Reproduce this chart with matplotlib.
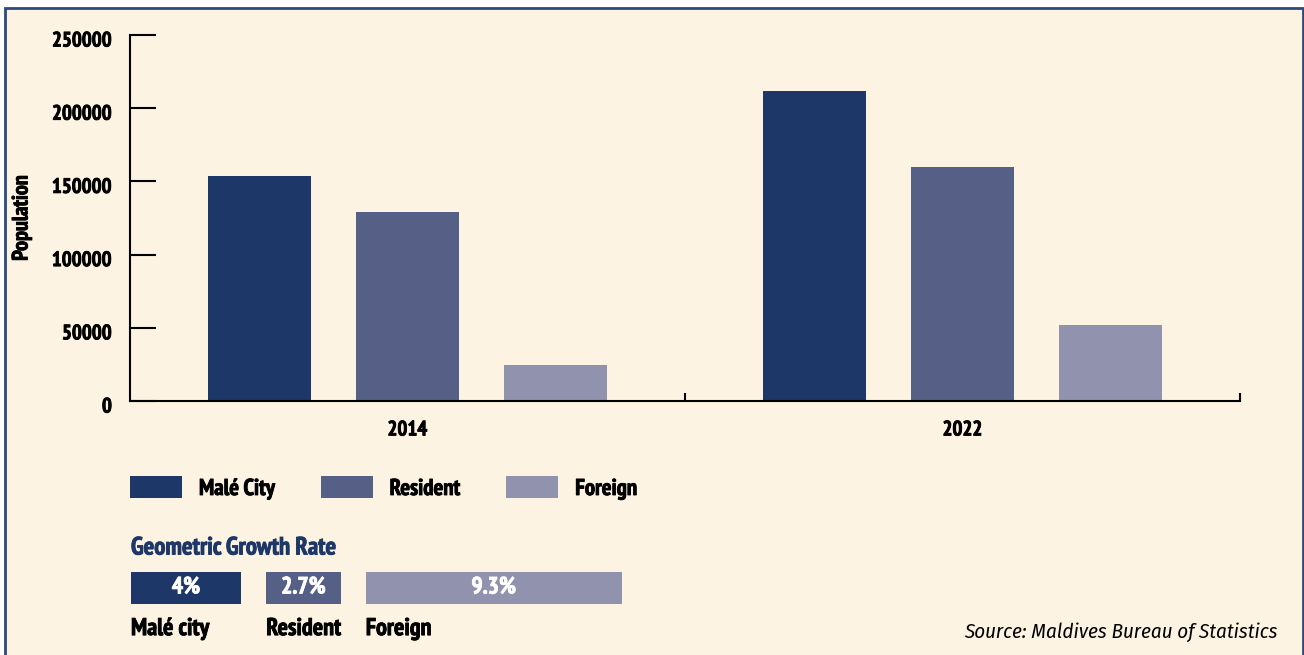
import matplotlib.pyplot as plt
import matplotlib.patheffects as pe
import matplotlib.transforms as mtransforms
import numpy as np
from matplotlib import font_manager
from matplotlib.patches import Patch, Rectangle

YEARS = ["2014", "2022"]
SERIES = ["Malé City", "Resident", "Foreign"]
MALE_CITY = [153904, 211908]
RESIDENT = [129381, 160000]
FOREIGN = [24523, 51908]

GROWTH_LABELS = ["Malé city", "Resident", "Foreign"]
GROWTH_RATES = [4.0, 2.7, 9.3]
GROWTH_TEXT = ["4%", "2.7%", "9.3%"]

COLORS = ["#1d3768", "#565f85", "#9193ae"]
BG = "#fdf3e3"
FRAME = "#2c4a80"


def pick_font(candidates):
    installed = {f.name for f in font_manager.fontManager.ttflist}
    for name in candidates:
        if name in installed:
            return name
    return "DejaVu Sans"


def heavier(color="black"):
    # PT Sans Narrow Bold is a touch lighter than the original face
    return [pe.withStroke(linewidth=0.6, foreground=color)]


MAIN_FONT = pick_font(["PT Sans Narrow", "Fira Sans Condensed", "Asap Condensed",
                       "Liberation Sans Narrow"])
ITALIC_FONT = pick_font(["Fira Sans Condensed", "Asap Condensed", "Archivo Narrow"])
plt.rcParams["font.family"] = [MAIN_FONT, "DejaVu Sans"]

W, H = 1304, 655
fig = plt.figure(figsize=(W / 100, H / 100), dpi=100, facecolor="white")

# cream panel with thin blue frame
fig.patches.append(
    Rectangle((5 / W, -0.02), 1298 / W, 1 - 8 / H + 0.02, transform=fig.transFigure,
              facecolor=BG, edgecolor=FRAME, linewidth=2, zorder=-10)
)

ax = fig.add_axes([130 / W, 1 - 401 / H, 1110 / W, 366 / H])
ax.set_facecolor("none")

x = np.arange(len(YEARS))
offset = 0.2667
width = 0.187
for i, values in enumerate([MALE_CITY, RESIDENT, FOREIGN]):
    ax.bar(x + (i - 1) * offset, values, width=width, color=COLORS[i], zorder=2)

ax.set_xlim(-0.5, 1.5)
ax.set_ylim(0, 250000)
ax.set_yticks(np.arange(0, 250001, 50000))
ax.set_xticks(x, YEARS)
ax.set_xticks([0.5, 1.5], minor=True)

for side in ["top", "right"]:
    ax.spines[side].set_visible(False)
for side in ["left", "bottom"]:
    ax.spines[side].set_linewidth(1.5)
    ax.spines[side].set_color("black")

ax.tick_params(axis="y", direction="in", length=19, width=1.5, pad=13, labelsize=15)
ax.tick_params(axis="x", which="major", length=0, pad=14, labelsize=15)
ax.tick_params(axis="x", which="minor", direction="in", length=6, width=1.5)
for lab in ax.get_yticklabels() + ax.get_xticklabels():
    lab.set_fontweight("bold")
    lab.set_path_effects(heavier())
shift = mtransforms.ScaledTranslation(0, -4 / 100, fig.dpi_scale_trans)
for lab in ax.get_yticklabels():
    lab.set_transform(lab.get_transform() + shift)

fig.text(22 / W, 1 - 218 / H, "Population", rotation=90, ha="center", va="center",
         fontsize=16, fontweight="bold", path_effects=heavier())

# legend
handles = [Patch(facecolor=c, edgecolor="none") for c in COLORS]
leg = fig.legend(handles, SERIES, loc="center left", bbox_to_anchor=(130 / W, 1 - 488 / H),
                 ncol=3, frameon=False, fontsize=16.5, handlelength=2.27, handleheight=1.13,
                 handletextpad=0.74, columnspacing=2.0, borderpad=0, borderaxespad=0)
for t in leg.get_texts():
    t.set_fontweight("bold")
    t.set_path_effects(heavier())

fig.text(131 / W, 1 - 548 / H, "Geometric Growth Rate", ha="left", va="center",
         fontsize=18, fontweight="bold", color=COLORS[0], path_effects=heavier(COLORS[0]))

# growth rate bars, width proportional to rate
gap = 0.92
px_per_pct = 27.5
gax = fig.add_axes([131 / W, 1 - 604 / H, 20 * px_per_pct / W, 32 / H])
gax.set_xlim(0, 20)
gax.set_ylim(-0.5, 0.5)
gax.axis("off")
lefts = np.concatenate([[0], np.cumsum(np.array(GROWTH_RATES[:-1]) + gap)])
gax.barh(0, GROWTH_RATES, left=lefts, height=1, color=COLORS)
for lft, rate, txt, lab in zip(lefts, GROWTH_RATES, GROWTH_TEXT, GROWTH_LABELS):
    gax.text(lft + rate / 2, 0, txt, ha="center", va="center", color="white",
             fontsize=17, fontweight="bold", path_effects=heavier("white"))
    gax.text(lft, -1.3, lab, ha="left", va="center", fontsize=17.5, fontweight="bold",
             path_effects=heavier())

fig.text(1278 / W, 1 - 632 / H, "Source: Maldives Bureau of Statistics", ha="right",
         va="center", fontsize=15, style="italic", family=[ITALIC_FONT, "DejaVu Sans"])

fig.savefig("out.png", dpi=100, facecolor=fig.get_facecolor())
